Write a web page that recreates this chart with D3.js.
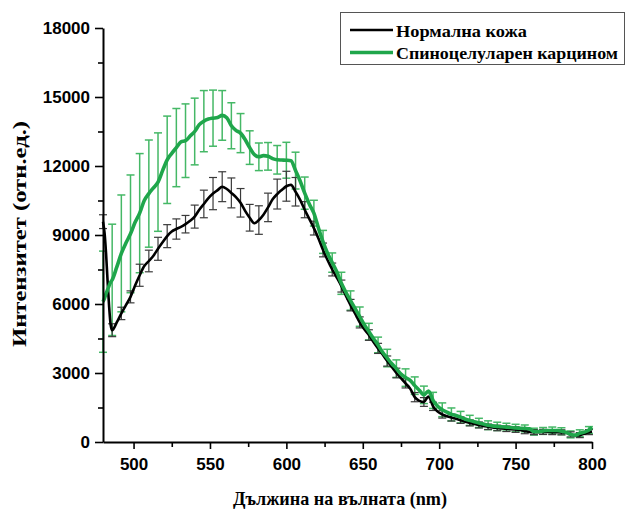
<!DOCTYPE html>
<html>
<head>
<meta charset="utf-8">
<script src="https://cdn.jsdelivr.net/npm/d3@7"></script>
<style>
  html, body { margin: 0; padding: 0; background: #fff; }
  svg { display: block; }
  .tick text { font-family: "Liberation Sans", Arial, sans-serif; font-weight: bold; font-size: 17px; fill: #000; }
  .ttl { font-family: "Liberation Serif", "Times New Roman", serif; font-weight: bold; fill: #000; }
</style>
</head>
<body>
<svg id="chart" width="628" height="512"></svg>
<script>
// Emission spectra: normal skin vs squamous cell carcinoma
const wl = [
  480, 481, 482, 483, 484, 485, 486, 489, 492, 495, 498, 501, 504, 507, 510, 513, 516, 519,
  522, 525, 528, 531, 534, 537, 540, 543, 546, 549, 552, 555, 558, 561, 564, 567, 570, 573,
  576, 579, 582, 585, 588, 591, 594, 597, 600, 603, 606, 609, 612, 615, 618, 621, 624, 627,
  630, 633, 636, 639, 642, 645, 648, 651, 654, 657, 660, 663, 666, 669, 672, 675, 678, 681,
  684, 687, 690, 693, 696, 699, 702, 705, 708, 711, 714, 717, 720, 723, 726, 729, 732, 735,
  738, 741, 744, 747, 750, 753, 756, 759, 762, 765, 768, 771, 774, 777, 780, 783, 786, 789,
  792, 795, 798, 800
];

const normal = [
  9580, 9100, 8200, 7000, 5900, 5100, 4860, 5200, 5590, 5950, 6310, 6800, 7250, 7650, 7870, 8100, 8400, 8680,
  8950, 9150, 9260, 9350, 9470, 9620, 9800, 10100, 10350, 10600, 10800, 10950, 11100, 11000, 10830, 10650, 10400, 10050,
  9750, 9510, 9650, 9880, 10200, 10550, 10780, 10960, 11120, 11180, 10880, 10530, 10100, 9700, 9300, 8850, 8350, 7900,
  7500, 7150, 6780, 6350, 5950, 5580, 5200, 4900, 4650, 4350, 4070, 3800, 3520, 3260, 3000, 2780, 2550, 2320,
  1950, 1790, 1740, 1980, 1550, 1320, 1200, 1120, 1060, 1010, 950, 880, 830, 780, 740, 700, 660, 630,
  610, 590, 575, 560, 540, 520, 480, 440, 430, 430, 440, 440, 430, 430, 420, 400, 330, 283,
  300, 360, 430, 450
];

const carcinoma = [
  6100, 6250, 6450, 6620, 6800, 6950, 7050, 7600, 8200, 8650, 9050, 9550, 9950, 10500, 10800, 11050, 11300, 11800,
  12270, 12550, 12800, 13050, 13100, 13300, 13500, 13800, 13950, 14040, 14080, 14110, 14200, 14100, 13750, 13550, 13430, 13150,
  12800, 12500, 12400, 12450, 12420, 12320, 12270, 12260, 12250, 12230, 11800, 11350, 10820, 10350, 9950, 9300, 8700, 8200,
  7800, 7400, 6900, 6500, 6150, 5800, 5450, 5100, 4800, 4500, 4220, 3900, 3650, 3400, 3190, 2950, 2800, 2680,
  2450, 2250, 2050, 2215, 1810, 1550, 1400, 1300, 1200, 1155, 1080, 1000, 940, 880, 830, 780, 730, 700,
  680, 660, 645, 630, 610, 600, 590, 575, 450, 450, 480, 500, 500, 500, 470, 420, 330, 300,
  380, 430, 520, 640
];

// error bars every 6 nm
const errWl = [
  480, 486, 492, 498, 504, 510, 516, 522, 528, 534, 540, 546, 552, 558, 564, 570, 576, 582,
  588, 594, 600, 606, 612, 618, 624, 630, 636, 642, 648, 654, 660, 666, 672, 678, 684, 690,
  696, 702, 708, 714, 720, 726, 732, 738, 744, 750, 756, 762, 768, 774, 780, 786, 792, 798
];
const errNormal = [
  300, 280, 270, 260, 480, 470, 500, 500, 440, 380, 500, 600, 700, 650, 650, 620, 580, 620,
  620, 650, 650, 620, 350, 300, 300, 280, 260, 250, 240, 230, 220, 220, 210, 200, 200, 190,
  180, 160, 150, 140, 130, 130, 120, 120, 120, 120, 120, 110, 110, 110, 110, 110, 110, 110
];
const errCarcinoma = [
  2200, 2420, 2540, 2560, 2590, 2330, 2140, 1900, 1700, 1600, 1450, 1330, 1220, 1080, 1000, 850, 730, 600,
  600, 620, 780, 800, 700, 560, 500, 420, 480, 420, 420, 360, 340, 380, 380, 380, 380, 380,
  350, 300, 280, 250, 220, 200, 190, 180, 170, 160, 150, 150, 150, 150, 150, 150, 150, 150
];

const xTicks = [500, 550, 600, 650, 700, 750, 800];
const xMinor = [525, 575, 625, 675, 725, 775];
const yTicks = [0, 3000, 6000, 9000, 12000, 15000, 18000];
const yMinor = [1500, 4500, 7500, 10500, 13500, 16500];

const seriesNames = ["Нормална кожа", "Спиноцелуларен карцином"];
const xTitle = "Дължина на вълната (nm)";
const yTitle = "Интензитет (отн.ед.)";

const GREEN = "#1fa64b";
const GREEN_ERR = "#45b866";

const svg = d3.select("#chart");
const margin = { left: 103, right: 36, top: 28, bottom: 70 };
const W = 628, H = 512;

const x = d3.scaleLinear().domain([480, 800]).range([margin.left, W - margin.right]);
const y = d3.scaleLinear().domain([0, 18000]).range([H - margin.bottom, margin.top]);

const toPts = (vals) => wl.map((w, i) => [w, vals[i]]);
const line = d3.line().x((d) => x(d[0])).y((d) => y(d[1])).curve(d3.curveMonotoneX);

// error bars
function drawErrors(vals, errs, color, width) {
  const data = errWl.map((w, i) => ({ w, v: vals[wl.indexOf(w)], e: errs[i] }));
  const g = svg.append("g").attr("stroke", color).attr("stroke-width", width).attr("fill", "none");
  const cap = 4;
  data.forEach((d) => {
    const cx = x(d.w), y1 = y(d.v + d.e), y2 = y(d.v - d.e);
    g.append("line").attr("x1", cx).attr("x2", cx).attr("y1", y1).attr("y2", y2);
    g.append("line").attr("x1", cx - cap).attr("x2", cx + cap).attr("y1", y1).attr("y2", y1);
    g.append("line").attr("x1", cx - cap).attr("x2", cx + cap).attr("y1", y2).attr("y2", y2);
  });
}
drawErrors(carcinoma, errCarcinoma, GREEN_ERR, 1.5);
drawErrors(normal, errNormal, "#3a3a3a", 1.2);

svg.append("path").datum(toPts(normal))
  .attr("fill", "none").attr("stroke", "#000").attr("stroke-width", 2.6)
  .attr("d", line);
svg.append("path").datum(toPts(carcinoma))
  .attr("fill", "none").attr("stroke", GREEN).attr("stroke-width", 3.6)
  .attr("d", line);

// axes
const xAxis = svg.append("g").attr("transform", `translate(0,${y(0)})`)
  .call(d3.axisBottom(x).tickValues(xTicks).tickSize(7).tickSizeOuter(0).tickPadding(6).tickFormat(d3.format("d")));
svg.append("g").attr("transform", `translate(0,${y(0)})`)
  .call(d3.axisBottom(x).tickValues(xMinor).tickSize(5).tickFormat(""))
  .select(".domain").remove();

const yAxis = svg.append("g").attr("transform", `translate(${x(480)},0)`)
  .call(d3.axisLeft(y).tickValues(yTicks).tickSize(8).tickSizeOuter(0).tickPadding(5).tickFormat(d3.format("d")));
svg.append("g").attr("transform", `translate(${x(480)},0)`)
  .call(d3.axisLeft(y).tickValues(yMinor).tickSize(5).tickFormat(""))
  .select(".domain").remove();

svg.selectAll(".domain").attr("stroke", "#000").attr("stroke-width", 2);
svg.selectAll(".tick line").attr("stroke", "#000").attr("stroke-width", 1.6);
xAxis.selectAll(".tick text").attr("dy", "0.9em");

// titles
svg.append("text").attr("class", "ttl")
  .attr("x", 340).attr("y", 505).attr("text-anchor", "middle")
  .attr("font-size", 19).attr("textLength", 214).attr("lengthAdjust", "spacingAndGlyphs")
  .text(xTitle);
svg.append("text").attr("class", "ttl")
  .attr("transform", "translate(26,234) rotate(-90)").attr("text-anchor", "middle")
  .attr("font-size", 19).attr("textLength", 226).attr("lengthAdjust", "spacingAndGlyphs")
  .text(yTitle);

// legend
const lg = svg.append("g");
lg.append("rect").attr("x", 340.5).attr("y", 12.5).attr("width", 284).attr("height", 52)
  .attr("fill", "#fff").attr("stroke", "#555").attr("stroke-width", 1);
const legendColors = ["#000", GREEN];
const legendWidths = [2.6, 3.6];
const legendLengths = [131, 222];
seriesNames.forEach((name, i) => {
  const ly = 30 + i * 22.5;
  lg.append("line").attr("x1", 350).attr("x2", 393).attr("y1", ly).attr("y2", ly)
    .attr("stroke", legendColors[i]).attr("stroke-width", legendWidths[i]);
  lg.append("text").attr("class", "ttl").attr("x", 396).attr("y", ly + 6.5)
    .attr("font-size", 17.5).attr("textLength", legendLengths[i]).attr("lengthAdjust", "spacingAndGlyphs")
    .text(name);
});
</script>
</body>
</html>
